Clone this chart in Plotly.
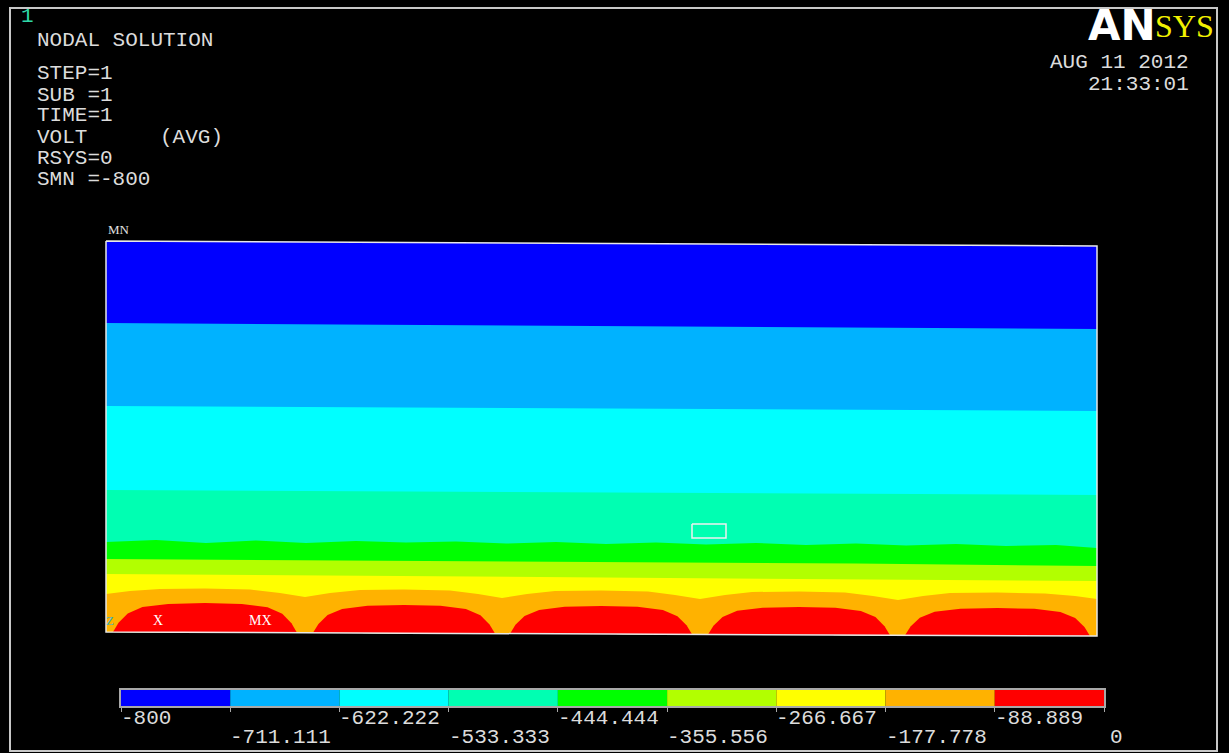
import numpy as np
import plotly.graph_objects as go

W, H = 1229, 753

# ---------------- data ----------------
levels = [-800, -711.111, -622.222, -533.333, -444.444, -355.556, -266.667, -177.778, -88.889, 0]
level_labels = ["-800", "-711.111", "-622.222", "-533.333", "-444.444",
                "-355.556", "-266.667", "-177.778", "-88.889", "0"]
band_colors = ["#0000FF", "#00B2FF", "#00FFFF", "#00FFB2", "#00FF00",
               "#B2FF00", "#FFFF00", "#FFB200", "#FF0000"]

# model outline (model units, x along the strip, h = height above bottom)
edge_x = [0, 991]
bottom_h = [4, 0]
top_h = [395, 390]

# upper boundary of each band (blue ... orange)
b_blue_x, b_blue_h = [0, 991], [395, 390]
b_lblue_x, b_lblue_h = [0, 76, 156, 929, 991], [313, 312.5, 312, 307.5, 307]
b_cyan_x, b_cyan_h = [0, 991], [230, 225]
b_aqua_x, b_aqua_h = [0, 991], [146, 141]
b_green_x = [0, 50, 100, 150, 200, 250, 300, 350, 400, 450, 500,
             550, 600, 650, 700, 750, 800, 850, 900, 950, 991]
b_green_h = [94, 96, 93, 95.5, 93, 95, 93.5, 94.5, 92.5, 94, 92,
             93.5, 91.5, 93, 91, 92.5, 90.5, 92, 90, 91, 88]
b_yg_x, b_yg_h = [0, 250, 500, 750, 991], [77, 75.5, 74, 72.5, 70]
b_yellow_x, b_yellow_h = [0, 330, 660, 991], [62, 59.5, 57.5, 55]
b_orange_x = [0, 24, 54, 99, 144, 174, 199, 224, 254, 298, 344, 372, 396, 421, 449, 495,
              542, 569, 594, 619, 646, 693, 739, 767, 792, 817, 844, 891, 939, 969, 991]
b_orange_h = [42, 45, 47, 47.5, 46.5, 43, 39, 43, 46, 46.5, 45.5, 42, 38, 42, 45, 45.5,
              44.5, 41, 37, 41, 44, 44.5, 43.5, 40, 36, 40, 43, 43.5, 42.5, 40, 37]

# electrodes (red regions)
electrode_left = [7, 207, 404, 602, 799]
electrode_right = [191, 389, 586, 784, 984]
electrode_top = [33, 31, 30, 29, 28]
profile_frac = [0, 0.03, 0.08, 0.16, 0.30, 0.50, 0.70, 0.84, 0.92, 0.97, 1.0]
profile_rel = [0, 0.32, 0.64, 0.86, 0.97, 1.0, 0.97, 0.86, 0.64, 0.32, 0]

# small marker box
box_x = [586, 620, 620, 586, 586]
box_h = [112, 112, 98, 98, 112]

header_lines = ["NODAL SOLUTION", "STEP=1", "SUB =1", "TIME=1", "VOLT", "RSYS=0", "SMN =-800"]
header_y = [41, 73, 95, 116, 137, 158, 179]

# ---------------- figure ----------------
def px(xp, yp):
    return xp / W, 1 - yp / H

fig = go.Figure()

bounds = [(b_blue_x, b_blue_h), (b_lblue_x, b_lblue_h), (b_cyan_x, b_cyan_h),
          (b_aqua_x, b_aqua_h), (b_green_x, b_green_h), (b_yg_x, b_yg_h),
          (b_yellow_x, b_yellow_h), (b_orange_x, b_orange_h)]
for (bx, bh), col in zip(bounds, band_colors[:8]):
    fig.add_trace(go.Scatter(x=list(bx) + [edge_x[1], edge_x[0]],
                             y=list(bh) + [bottom_h[1], bottom_h[0]],
                             mode="lines", fill="toself", fillcolor=col,
                             line=dict(width=0, color=col), hoverinfo="skip", showlegend=False))

for l, r, t in zip(electrode_left, electrode_right, electrode_top):
    xs = l + np.array(profile_frac) * (r - l)
    base = np.interp(xs, edge_x, bottom_h)
    ys = base + np.array(profile_rel) * (t - base)
    fig.add_trace(go.Scatter(x=xs, y=ys, mode="lines", fill="toself", fillcolor=band_colors[8],
                             line=dict(width=0, color=band_colors[8]), hoverinfo="skip",
                             showlegend=False))

# outline
fig.add_trace(go.Scatter(x=[edge_x[0], edge_x[1], edge_x[1], edge_x[0], edge_x[0]],
                         y=[top_h[0], top_h[1], bottom_h[1], bottom_h[0], top_h[0]],
                         mode="lines", line=dict(color="#E8E8E8", width=1.5),
                         hoverinfo="skip", showlegend=False))
fig.add_trace(go.Scatter(x=box_x, y=box_h, mode="lines", line=dict(color="#F0F0F0", width=1.5),
                         hoverinfo="skip", showlegend=False))

# legend bar
fig.add_trace(go.Bar(orientation="h", base=levels[:-1], x=list(np.diff(levels)), y=[0] * 9,
                     width=1, marker=dict(color=band_colors, line=dict(width=0)),
                     xaxis="x2", yaxis="y2", hoverinfo="skip", showlegend=False))

x0_model = -106
y0_model = 636
fig.update_layout(
    width=W, height=H, autosize=False,
    margin=dict(l=0, r=0, t=0, b=0),
    paper_bgcolor="black", plot_bgcolor="black",
    barmode="overlay",
    xaxis=dict(range=[x0_model, x0_model + W], domain=[0, 1], visible=False),
    yaxis=dict(range=[y0_model - H, y0_model], domain=[0, 1], visible=False),
    xaxis2=dict(range=[levels[0], levels[-1]], domain=[121 / W, 1104 / W], anchor="y2",
                showgrid=False, zeroline=False, showline=True, mirror=True,
                linecolor="#A8A8A8", linewidth=2, ticks="outside", tickvals=levels,
                ticklen=4, tickcolor="#A8A8A8", tickwidth=1, showticklabels=False),
    yaxis2=dict(range=[-0.5, 0.5], domain=[1 - 706 / H, 1 - 690 / H], anchor="x2",
                showgrid=False, zeroline=False, showline=True, mirror=True,
                linecolor="#A8A8A8", linewidth=2, showticklabels=False, ticks=""),
    showlegend=False,
)

txt = "#DCDCDC"
mono = "Liberation Mono"
ann = []
def add_text(text, xp, yp, xanchor="left", size=21, color=txt, family=mono):
    x, y = px(xp, yp)
    ann.append(dict(text=text, x=x, y=y, xref="paper", yref="paper", xanchor=xanchor,
                    yanchor="middle", showarrow=False,
                    font=dict(family=family, size=size, color=color)))

add_text("1", 19, 17, color="#2FD8A8")
for t, yy in zip(header_lines, header_y):
    add_text(t, 35, yy)
add_text("(AVG)", 158, 137)
add_text("AUG 11 2012", 1191, 62, xanchor="right")
add_text("21:33:01", 1191, 84, xanchor="right")
add_text("<b>AN</b>", 1158, 26, xanchor="right", size=42, color="white", family="DejaVu Sans")
add_text("SYS", 1153, 26, xanchor="left", size=32, color="#F2F200", family="Liberation Serif")
add_text("MN", 106, 230, size=13, color="#E0E0E0", family="Liberation Serif")
add_text("X", 151, 620, size=14, color="white", family="Liberation Serif")
add_text("MX", 247, 620, size=14, color="white", family="Liberation Serif")
add_text("Z", 104, 620, size=13, color="#40B0C0", family="Liberation Serif")

for i, (lv, lab) in enumerate(zip(levels, level_labels)):
    yp = 718 if i % 2 == 0 else 737
    shift = 4 if lab == "0" else -2
    ann.append(dict(text=lab, x=lv, xref="x2", y=1 - yp / H, yref="paper", xanchor="left",
                    yanchor="middle", xshift=shift, showarrow=False,
                    font=dict(family=mono, size=21, color=txt)))

fig.update_layout(annotations=ann)

# outer frame
fig.add_shape(type="rect", xref="paper", yref="paper", x0=10 / W, x1=1217 / W,
              y0=1 - 751 / H, y1=1 - 8 / H, line=dict(color="#C8C8C8", width=2))

fig.write_html("out.html", config={"displayModeBar": False},
               post_script="document.body.style.margin='0';document.body.style.overflow='hidden';")
